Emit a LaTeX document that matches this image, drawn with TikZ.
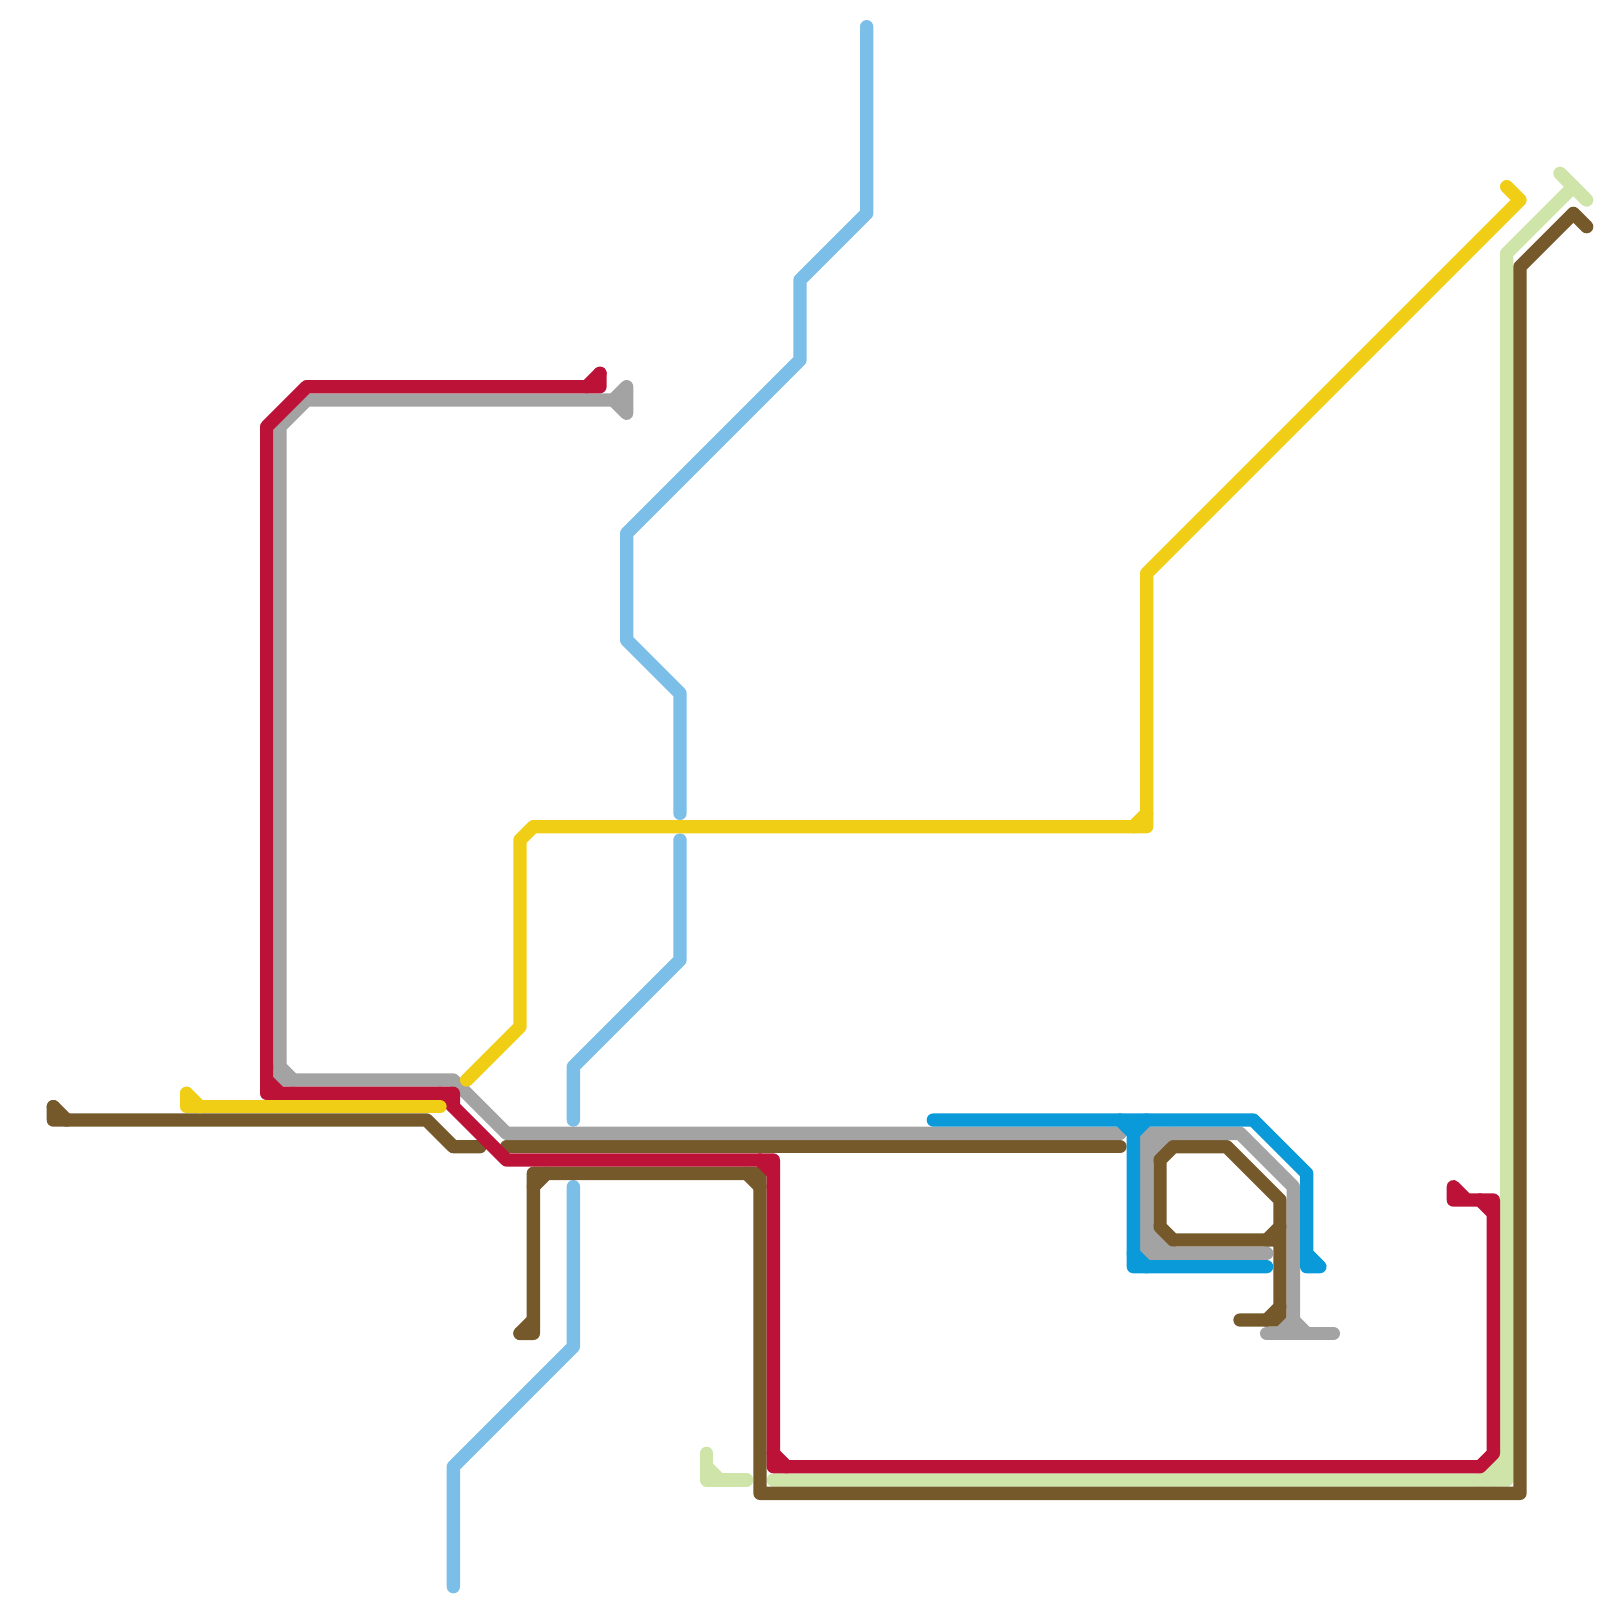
\documentclass[tikz,border=0pt]{standalone}
\definecolor{lbluec}{HTML}{7BBEE8}
\definecolor{bluec}{HTML}{0A99D9}
\definecolor{yellowc}{HTML}{F0CE15}
\definecolor{redc}{HTML}{BC1238}
\definecolor{grayc}{HTML}{A3A3A3}
\definecolor{brownc}{HTML}{75592B}
\definecolor{greenc}{HTML}{CEE4A8}
\tikzset{
  route/.style={line width=1mm,line cap=round,line join=round},
  lblue/.style={route,draw=lbluec},
  blueline/.style={route,draw=bluec},
  yellowline/.style={route,draw=yellowc},
  redline/.style={route,draw=redc},
  grayline/.style={route,draw=grayc},
  brownline/.style={route,draw=brownc},
  greenline/.style={route,draw=greenc}
}
\begin{document}
\begin{tikzpicture}[x=1mm,y=-1mm]
\useasboundingbox (0,0) rectangle (120,120);
% light green
\draw[greenline] (117,13) -- (119,15);
\draw[greenline] (118,14) -- (113,19) -- (113,111) -- (58,111);
\draw[greenline] (111,111) -- (113,109);
\draw[greenline] (112,111) -- (113,110);
\draw[greenline] (53,109) -- (53,111) -- (56,111);
\draw[greenline] (53,110) -- (54,111);
% light blue
\draw[lblue] (65,2) -- (65,16) -- (60,21) -- (60,27) -- (47,40) -- (47,48) -- (51,52) -- (51,61);
\draw[lblue] (51,63) -- (51,72) -- (43,80) -- (43,84);
\draw[lblue] (43,89) -- (43,101) -- (34,110) -- (34,119);
% grey fill behind the brown loop
\draw[grayline] (86,86) -- (87,85);
\draw[grayline] (86,87) -- (88,85);
\draw[grayline] (86,93) -- (87,94);
\draw[grayline] (86,92) -- (88,94);
% brown
\draw[brownline] (4,83) -- (4,84) -- (32,84) -- (34,86) -- (36,86);
\draw[brownline] (4,83) -- (5,84);
\draw[brownline] (38,86) -- (84,86);
\draw[brownline] (39,100) -- (40,100) -- (40,88) -- (57,88) -- (57,112) -- (114,112) -- (114,20) -- (118,16) -- (119,17);
\draw[brownline] (39,100) -- (40,99);
\draw[brownline] (40,89) -- (41,88);
\draw[brownline] (56,88) -- (57,89);
\draw[brownline] (93,99) -- (96,99) -- (96,90) -- (92,86) -- (88,86) -- (87,87) -- (87,92) -- (88,93) -- (96,93);
\draw[brownline] (95,99) -- (96,98);
\draw[brownline] (95,93) -- (96,92);
% grey
\draw[grayline] (47,29) -- (47,31) -- (46,30) -- (47,29);
\draw[grayline] (46,30) -- (23,30) -- (21,32) -- (21,81) -- (34,81) -- (38,85) -- (84,85);
\draw[grayline] (21,80) -- (22,81);
\draw[grayline] (95,94) -- (86,94) -- (86,85) -- (93,85) -- (97,89) -- (97,100);
\draw[grayline] (95,100) -- (100,100);
\draw[grayline] (97,99) -- (98,100);
\draw[grayline] (96,100) -- (97,99);
% red
\draw[redline] (45,28) -- (45,29) -- (23,29) -- (20,32) -- (20,82) -- (34,82) -- (34,83) -- (38,87) -- (58,87) -- (58,110) -- (111,110) -- (112,109) -- (112,90) -- (109,90) -- (109,89) -- (110,90);
\draw[redline] (44,29) -- (45,28);
\draw[redline] (20,81) -- (21,82);
\draw[redline] (33,82) -- (34,83);
\draw[redline] (57,87) -- (58,88);
\draw[redline] (58,109) -- (59,110);
\draw[redline] (111,90) -- (112,91);
% yellow
\draw[yellowline] (35,81) -- (39,77) -- (39,63) -- (40,62) -- (86,62) -- (86,43) -- (114,15) -- (113,14);
\draw[yellowline] (85,62) -- (86,61);
\draw[yellowline] (14,82) -- (14,83) -- (33,83);
\draw[yellowline] (14,82) -- (15,83);
% blue
\draw[blueline] (70,84) -- (94,84) -- (98,88) -- (98,95) -- (99,95) -- (98,94);
\draw[blueline] (84,84) -- (85,85) -- (85,95) -- (95,95);
\draw[blueline] (86,84) -- (85,85);
\draw[blueline] (85,94) -- (86,95);
\end{tikzpicture}
\end{document}
